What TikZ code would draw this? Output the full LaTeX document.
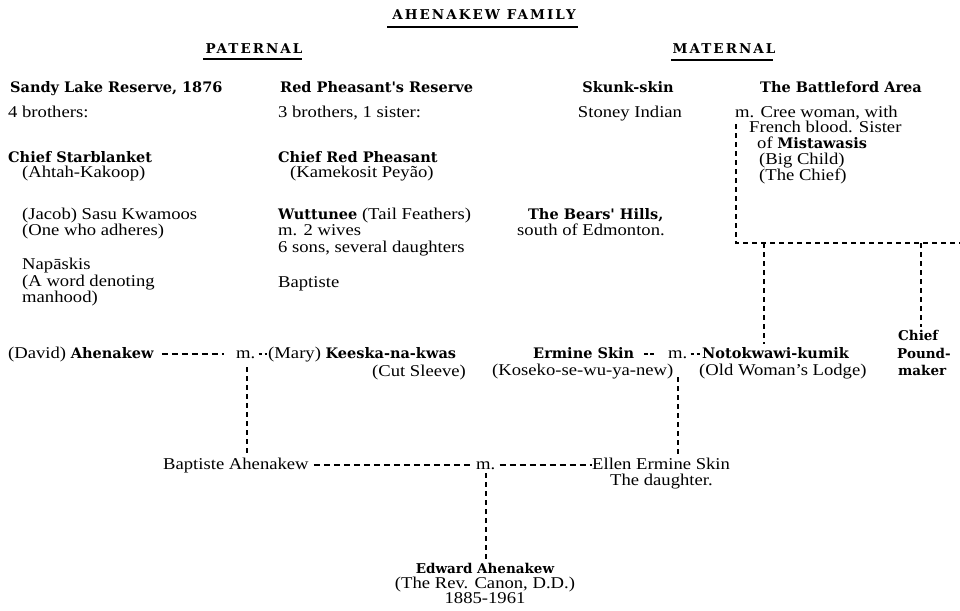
\documentclass[tikz,border=0pt]{standalone}
\usepackage{fontspec}
\setmainfont{Liberation Serif}[FakeStretch=1.13]
\newfontfamily\clar{DejaVu Serif}
\newfontfamily\clarsp{DejaVu Serif}[LetterSpace=15]
\usetikzlibrary{calc}
\newcommand\rg{\fontsize{16.5}{15.5}\selectfont}
\newcommand\bd{\clar\bfseries\fontsize{14.5}{16}\selectfont}
\newcommand\bt[1]{{\bd #1}}
\begin{document}
\begin{tikzpicture}[x=1pt,y=-1pt,
 L/.style={anchor=base west,inner sep=0pt,font=\rg},
 C/.style={anchor=base,inner sep=0pt,font=\rg},
 BL/.style={anchor=base west,inner sep=0pt,font=\bd},
 BS/.style={anchor=base west,inner sep=0pt,font=\clar\bfseries\fontsize{13.5}{16}\selectfont},
 BC/.style={anchor=base,inner sep=0pt,font=\clar\bfseries\fontsize{13.5}{15}\selectfont},
 HD/.style={anchor=base,inner sep=0pt,font=\clarsp\bfseries\fontsize{13.5}{15}\selectfont},
 ul/.style={line width=1.8pt},
 dl/.style={line width=1.7pt,dash pattern=on 6pt off 4pt},
 sd/.style={line width=1.7pt,dash pattern=on 3.5pt off 2.5pt},
 vl/.style={line width=1.7pt,dash pattern=on 5pt off 4pt}]
\useasboundingbox (0,0) rectangle (960,610);
% headings
\node[HD] (title) at (484,20) {AHENAKEW FAMILY};
\draw[ul] ([xshift=-5pt,yshift=-7pt]title.base west) -- ([xshift=2pt,yshift=-7pt]title.base east);
\node[HD] (pat) at (254,53) {PATERNAL};
\draw[ul] ([xshift=-2pt,yshift=-6pt]pat.base west) -- ([xshift=-1pt,yshift=-6pt]pat.base east);
\node[HD] (mat) at (724,53) {MATERNAL};
\draw[ul] ([xshift=-1pt,yshift=-7pt]mat.base west) -- ([xshift=-3pt,yshift=-7pt]mat.base east);
% column 1
\node[BL] (sandy) at (10,92) {Sandy Lake Reserve, 1876};
\node[L] (four) at (8,117) {4 brothers:};
\node[BL] (star) at (8,162) {Chief Starblanket};
\node[L] (ahtah) at (22,177) {(Ahtah-Kakoop)};
\node[L] (jacob) at (22,219) {(Jacob) Sasu Kwamoos};
\node[L] (adh) at (22,235) {(One who adheres)};
\node[L] (napa) at (22,269) {Napāskis};
\node[L] (word) at (22,286) {(A word denoting};
\node[L] (manh) at (22,302) {manhood)};
% column 2
\node[BL] (redres) at (280,92) {Red Pheasant's Reserve};
\node[L] (three) at (278,117) {3 brothers, 1 sister:};
\node[BL] (redph) at (278,162) {Chief Red Pheasant};
\node[L] (kame) at (290,177) {(Kamekosit Peyão)};
\node[L] (wutt) at (278,219) {\bt{Wuttunee} (Tail Feathers)};
\node[L] (wives) at (278,235) {m. 2 wives};
\node[L] (sons) at (278,252) {6 sons, several daughters};
\node[L] (bapt1) at (278,287) {Baptiste};
% column 3
\node[BC,font=\bd] (skunk) at (628,92) {Skunk-skin};
\node[C] (stoney) at (630,117) {Stoney Indian};
\node[BL] (bears) at (528,219) {The Bears' Hills,};
\node[L] (south) at (517,235) {south of Edmonton.};
% column 4
\node[BL] (battle) at (760,92) {The Battleford Area};
\node[L] (cree) at (735,117) {m. Cree woman, with};
\node[L] (french) at (749,132) {French blood. Sister};
\node[L] (mista) at (757,148) {of \bt{Mistawasis}};
\node[L] (bigc) at (759,164) {(Big Child)};
\node[L] (thec) at (759,180) {(The Chief)};
% marriage row
\node[L] (david) at (8,358) {(David) \bt{Ahenakew}};
\node[L] (m1) at (236,358) {m.};
\node[L] (mary) at (268,358) {(Mary) \bt{Keeska-na-kwas}};
\node[L] (cut) at (372,376) {(Cut Sleeve)};
\node[BL] (ermine) at (533,358) {Ermine Skin};
\node[L] (m2) at (668,358) {m.};
\node[BL] (noto) at (702,358) {Notokwawi-kumik};
\node[L] (koseko) at (492,375) {(Koseko-se-wu-ya-new)};
\node[L] (old) at (699,375) {(Old Woman's Lodge)};
\node[BS] (chief) at (898,340) {Chief};
\node[BS] (pound) at (897,358) {Pound-};
\node[BS] (maker) at (898,375) {maker};
% second generation
\node[L] (bapt) at (163,469) {Baptiste Ahenakew};
\node[L] (m3) at (476,469) {m.};
\node[L] (ellen) at (592,469) {Ellen Ermine Skin};
\node[L] (daught) at (610,485) {The daughter.};
% third generation
\node[BC] (edward) at (485,573) {Edward Ahenakew};
\node[C] (rev) at (485,588) {(The Rev. Canon, D.D.)};
\node[C] (years) at (485,603) {1885-1961};
% connectors
\draw[dl,shorten <=8pt,shorten >=12pt] ([yshift=4pt]david.base east) -- ([yshift=4pt]m1.base west);
\draw[sd,shorten <=3pt,shorten >=1pt] ([yshift=4pt]m1.base east) -- ([yshift=4pt]mary.base west);
\draw[sd,shorten <=10pt,shorten >=14pt] ([yshift=4pt]ermine.base east) -- ([yshift=4pt]m2.base west);
\draw[sd,shorten <=3pt,shorten >=1pt] ([yshift=4pt]m2.base east) -- ([yshift=4pt]noto.base west);
\draw[dl,shorten <=5pt,shorten >=6pt] ([yshift=4pt]bapt.base east) -- ([yshift=4pt]m3.base west);
\draw[dl,shorten <=4pt,shorten >=0pt] ([yshift=4pt]m3.base east) -- ([yshift=4pt]ellen.base west);
\draw[vl,shorten <=9pt,shorten >=3pt] ([xshift=1pt]m1.base) -- ([xshift=1pt]m1.base |- bapt.north);
\draw[vl,shorten <=19pt,shorten >=2pt] (m2.base) -- (m2.base |- ellen.north);
\draw[vl,shorten <=4pt,shorten >=3pt] (m3.base) -- (m3.base |- edward.north);
\coordinate (jR) at (960,243);
\coordinate (j2) at (764,243);
\coordinate (j3) at (921,243);
\draw[vl] ([xshift=1pt,yshift=-7pt]cree.base west) |- (jR);
\draw[vl,shorten >=3pt] (j2) -- (j2 |- noto.north);
\draw[vl,shorten >=3pt] (j3) -- (j3 |- chief.north);
\end{tikzpicture}
\end{document}
